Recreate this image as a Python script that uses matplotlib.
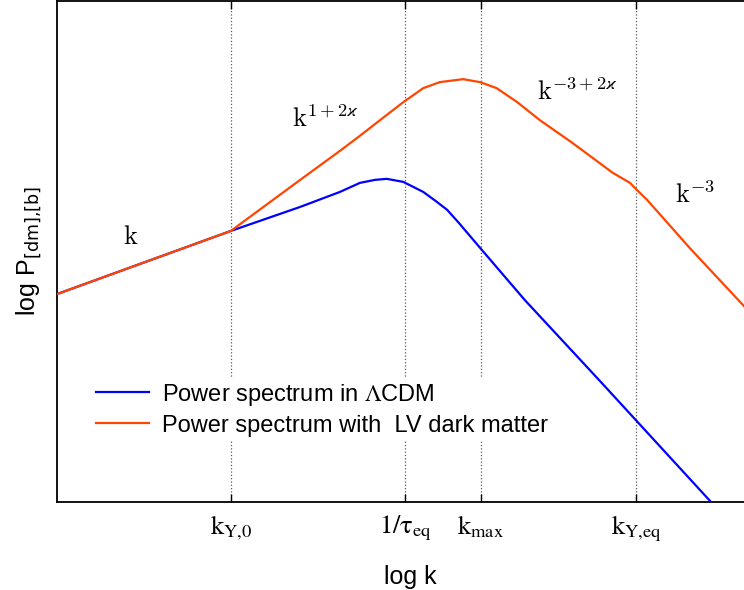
import matplotlib
matplotlib.use('Agg')
import matplotlib.pyplot as plt
import numpy as np

plt.rcParams['mathtext.fontset'] = 'stix'
plt.rcParams['font.family'] = ['Liberation Sans', 'DejaVu Sans']

# log k positions of the characteristic scales
k_marks = [2.53, 5.07, 6.17, 8.43]
k_labels = [r'$\mathrm{k}_{\mathrm{Y{,}0}}$', r'$1/\mathrm{\tau}_{\mathrm{eq}}$',
            r'$\mathrm{k}_{\mathrm{max}}$', r'$\mathrm{k}_{\mathrm{Y{,}eq}}$']

# LCDM spectrum (log k, log P)
lcdm_x = [0.0, 2.53, 3.54, 4.12, 4.41, 4.63, 4.80, 5.04, 5.33, 5.53, 5.68, 5.85, 6.16, 6.81, 7.90, 9.52]
lcdm_y = [4.15, 5.41, 5.89, 6.19, 6.37, 6.43, 6.45, 6.39, 6.19, 5.99, 5.83, 5.57, 5.07, 4.03, 2.42, 0.0]

# LV dark matter spectrum
lv_x = [0.0, 2.53, 3.54, 4.12, 4.41, 4.70, 5.04, 5.33, 5.57, 5.91, 6.16, 6.40, 6.70, 7.03,
        7.50, 8.09, 8.34, 8.44, 8.59, 9.21, 10.0]
lv_y = [4.15, 5.41, 6.43, 7.01, 7.31, 7.62, 7.98, 8.26, 8.38, 8.44, 8.38, 8.26, 7.98, 7.62,
        7.17, 6.57, 6.37, 6.23, 6.03, 5.07, 3.91]

# slope annotations (left edge, baseline)
slope_txt = [r'$\mathrm{k}$', r'$\mathrm{k}^{1+2\varkappa}$', r'$\mathrm{k}^{-3+2\varkappa}$', r'$\mathrm{k}^{-3}$']
slope_x = [0.96, 3.42, 6.99, 9.00]
slope_y = [5.15, 7.49, 8.02, 5.97]

fig = plt.figure(figsize=(7.44, 5.9), dpi=100)
ax = fig.add_axes([57/744, 88/590, 687/744, 501/590])

for xm in k_marks:
	ax.axvline(xm, color='0.35', ls=':', lw=0.9, zorder=1)

ax.plot(lcdm_x, lcdm_y, color='#0000ff', lw=1.6, label=r'Power spectrum in $\Lambda$CDM', zorder=3)
ax.plot(lv_x, lv_y, color='#ff4500', lw=1.6, label='Power spectrum with  LV dark matter', zorder=3)

for t, x, y in zip(slope_txt, slope_x, slope_y):
	ax.text(x, y, t, fontsize=19, ha='left', va='baseline', math_fontfamily='cm')

ax.set_xlim(0, 10)
ax.set_ylim(0, 10)
ax.set_xticks(k_marks)
ax.set_xticklabels(k_labels, fontsize=19)
ax.set_yticks([])
ax.tick_params(axis='x', direction='in', top=True, length=6, width=1, pad=8)
for s in ax.spines.values():
	s.set_linewidth(1.3)
ax.spines['right'].set_visible(False)

ax.set_xlabel('log k', fontsize=18, labelpad=12)
ax.xaxis.set_label_coords(0.514, -0.125)
ax.set_ylabel(r'log P$_{\mathrm{[dm]{,}[b]}}$', fontsize=18, labelpad=10, math_fontfamily='dejavusans')

leg = ax.legend(loc='upper left', bbox_to_anchor=(0.0517, 0.2475), borderaxespad=0,
	fontsize=17, handlelength=2.25, handletextpad=0.55, labelspacing=0.3, borderpad=0.15,
	frameon=True, fancybox=False)
leg.get_frame().set_edgecolor('none')
leg.get_frame().set_facecolor('white')
leg.get_frame().set_alpha(1)
leg.set_zorder(5)

fig.savefig('out.png', dpi=100)
